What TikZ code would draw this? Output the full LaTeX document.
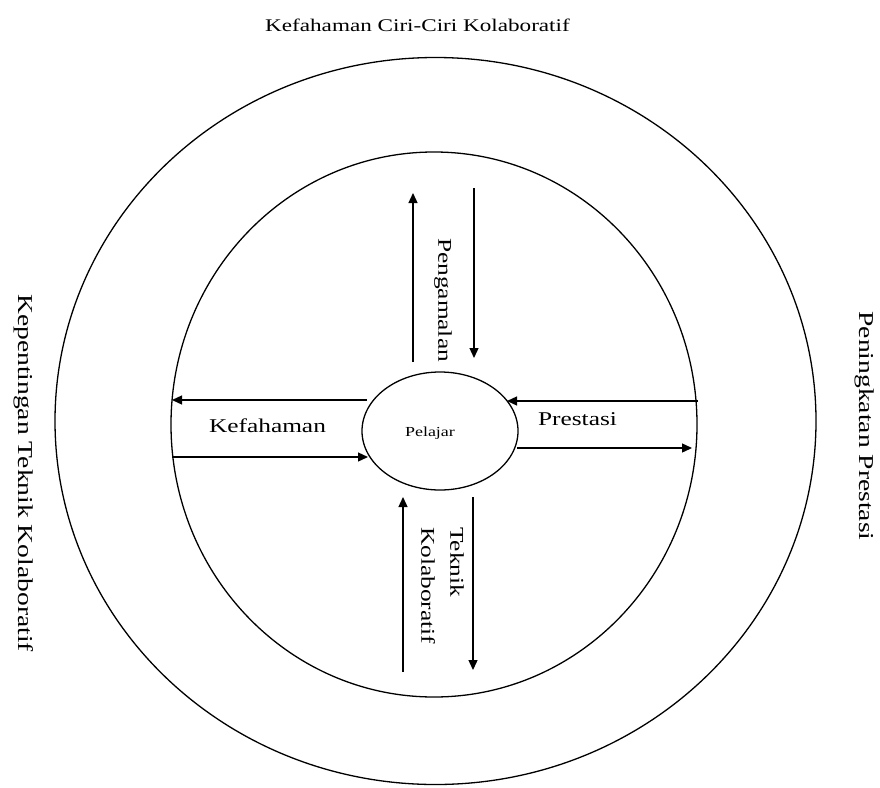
\documentclass[tikz,border=0pt]{standalone}
\usepackage{fontspec}
\setmainfont{Liberation Serif}[FakeStretch=1.3]
\usetikzlibrary{shapes.geometric,arrows.meta}
\begin{document}
\begin{tikzpicture}[x=1pt,y=-1pt,
  ring/.style={draw, ellipse, line width=1.3pt, inner sep=0pt},
  arr/.style={line width=1.3pt, -{Triangle[length=10pt,width=9pt]}},
  lbl/.style={inner sep=0pt, font=\fontsize{19.5}{29}\selectfont},
  side/.style={inner sep=0pt, font=\fontsize{21.2}{26}\selectfont, rotate=-90}]
\useasboundingbox (0,0) rectangle (880,787);
% circles
\node[ring, minimum width=761pt, minimum height=727pt] (outer) at (435.5,421) {};
\node[ring, minimum width=526pt, minimum height=545pt] (inner) at (434,424.5) {};
\node[ring, minimum width=156pt, minimum height=118pt] (pelajar) at (440,431) {};
\node[inner sep=0pt, anchor=base, font=\fontsize{13.8}{16}\selectfont] (pl) at (430,436) {Pelajar};
% end points
\coordinate (ulA) at (367,400); \coordinate (ulB) at (172,400);
\coordinate (llA) at (172,457); \coordinate (llB) at (368,457);
\coordinate (urA) at (698,401); \coordinate (urB) at (507,401);
\coordinate (lrA) at (517,448); \coordinate (lrB) at (692,448);
\coordinate (tuA) at (413,362); \coordinate (tuB) at (413,193);
\coordinate (tdA) at (474,188); \coordinate (tdB) at (474,358);
\coordinate (buA) at (403,672); \coordinate (buB) at (403,497);
\coordinate (bdA) at (473,497); \coordinate (bdB) at (473,670);
% arrows
\draw[arr] (ulA) -- (ulB);
\draw[arr] (llA) -- (llB);
\draw[arr] (urA) -- (urB);
\draw[arr] (lrA) -- (lrB);
\draw[arr] (tuA) -- (tuB);
\draw[arr] (tdA) -- (tdB);
\draw[arr] (buA) -- (buB);
\draw[arr] (bdA) -- (bdB);
% labels
\node[inner sep=0pt, anchor=base, font=\fontsize{17.8}{22}\selectfont] (title) at (417.5,31) {Kefahaman Ciri-Ciri Kolaboratif};
\node[lbl, anchor=base] (kef) at (267.5,432) {Kefahaman};
\node[lbl, anchor=base] (pres) at (577.5,425) {Prestasi};
\node[lbl, rotate=-90] (peng) at (443,300) {Pengamalan};
\node[lbl, rotate=-90, anchor=west, align=left] (tek) at (442.5,527) {Teknik\\Kolaboratif};
\node[side] (left) at (24,473) {Kepentingan Teknik Kolaboratif};
\node[side] (right) at (865,426) {Peningkatan Prestasi};
\end{tikzpicture}
\end{document}
